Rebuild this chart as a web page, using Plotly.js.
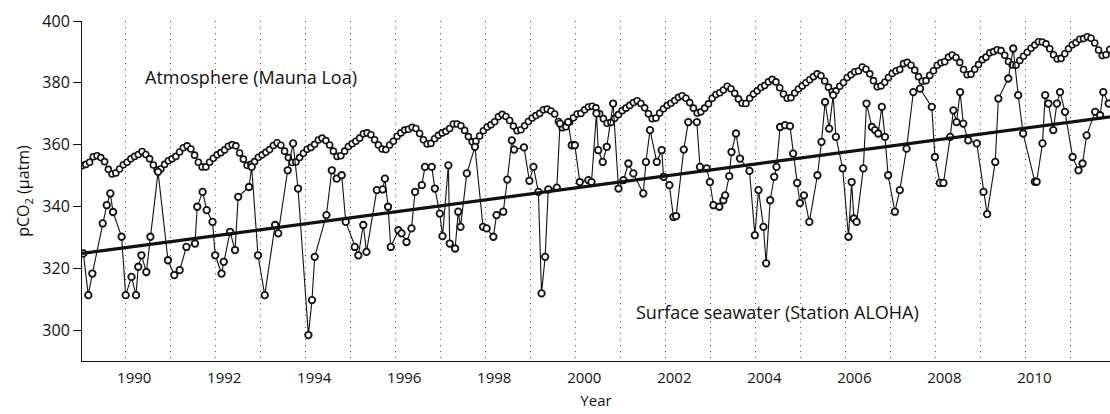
<!DOCTYPE html>
<html>
<head>
<meta charset="utf-8">
<script src="https://cdn.plot.ly/plotly-3.0.1.min.js"></script>
<style>html,body{margin:0;padding:0;background:#fff;}#chart{width:1110px;height:414px;}</style>
</head>
<body>
<div id="chart"></div>
<script>
// Atmosphere (Mauna Loa) monthly pCO2, starting January 1989 (uatm)
const atmStartYear = 1989;
const atmPco2 = [
  353.2,353.6,354.3,356.1,356.4,355.8,354.5,352.0,350.5,350.8,352.1,353.5, // 1989
  354.3,355.4,356.2,356.8,357.8,356.8,355.4,353.4,351.8,352.1,353.6,354.8, // 1990
  355.4,356.2,357.6,359.0,359.6,358.6,356.6,354.3,352.8,352.8,354.3,355.6, // 1991
  356.7,357.4,358.3,359.5,360.0,359.6,357.3,355.3,353.3,353.6,354.5,355.9, // 1992
  356.7,357.5,358.4,359.7,360.6,359.8,357.9,355.8,354.2,354.4,355.8,357.2, // 1993
  358.5,359.1,360.1,361.5,362.1,361.3,359.9,357.9,356.2,356.4,357.9,359.4, // 1994
  360.3,361.1,362.1,363.5,363.8,363.2,361.6,359.9,358.6,358.4,359.9,361.1, // 1995
  362.7,363.8,364.7,365.0,365.6,365.2,363.6,361.6,360.2,360.4,361.9,363.0, // 1996
  363.8,364.3,365.2,366.7,366.7,366.1,364.6,362.6,360.9,361.1,362.8,364.5, // 1997
  365.7,366.4,367.4,369.0,369.8,369.1,367.8,366.0,364.5,364.8,366.1,367.5, // 1998
  368.6,369.4,370.1,371.3,371.5,370.9,369.9,367.5,365.5,365.8,367.3,368.7, // 1999
  369.9,370.1,371.3,372.2,372.4,371.9,370.0,368.4,366.9,367.2,368.5,369.7, // 2000
  371.0,371.8,372.7,373.6,374.2,373.3,371.9,370.0,368.4,368.6,370.2,371.6, // 2001
  372.7,373.4,374.3,375.3,375.8,375.0,373.6,371.8,370.2,370.6,371.8,373.2, // 2002
  375.0,376.2,376.8,377.7,378.9,378.1,376.6,374.8,373.4,373.3,375.0,376.4, // 2003
  377.4,378.5,379.1,380.3,381.1,380.3,378.4,376.4,375.0,375.2,376.7,378.0, // 2004
  379.0,380.0,381.0,382.0,382.9,382.3,380.6,378.6,377.1,377.4,378.9,380.1, // 2005
  381.7,382.6,383.6,383.8,385.1,384.4,382.9,380.7,378.7,379.0,380.2,381.7, // 2006
  383.0,383.8,384.3,386.2,386.6,385.7,384.1,382.0,380.5,380.7,382.4,383.9, // 2007
  385.7,386.5,386.8,388.3,389.0,388.2,386.6,384.3,382.6,382.8,384.4,385.9, // 2008
  387.5,388.3,389.7,390.1,390.7,390.4,388.9,386.9,385.8,385.7,387.2,388.6, // 2009
  389.9,391.2,392.2,393.3,393.2,392.6,391.0,389.1,387.7,387.9,389.4,391.0, // 2010
  392.3,393.0,394.1,394.3,394.9,394.4,392.9,390.6,388.8,389.1,390.8,392.1, // 2011
  393.2
];

// Surface seawater (Station ALOHA) pCO2: sample time (decimal year) and value (uatm)
const swYears = [
  1989.07,1989.18,1989.27,1989.50,1989.59,1989.67,1989.73,1989.92,1990.01,1990.14,
  1990.24,1990.29,1990.36,1990.47,1990.56,1990.73,1990.95,1991.09,1991.21,1991.36,
  1991.55,1991.60,1991.72,1991.81,1991.94,1992.00,1992.14,1992.19,1992.33,1992.44,
  1992.51,1992.75,1992.81,1992.95,1993.10,1993.33,1993.40,1993.61,1993.73,1993.84,
  1994.07,1994.15,1994.21,1994.47,1994.59,1994.70,1994.81,1994.90,1995.10,1995.18,
  1995.29,1995.36,1995.59,1995.72,1995.77,1995.84,1995.90,1996.07,1996.14,1996.25,
  1996.36,1996.44,1996.59,1996.66,1996.81,1996.88,1996.99,1997.05,1997.18,1997.21,
  1997.33,1997.40,1997.45,1997.59,1997.77,1997.95,1998.03,1998.18,1998.25,1998.40,
  1998.49,1998.59,1998.64,1998.86,1998.98,1999.07,1999.18,1999.25,1999.33,1999.40,
  1999.59,1999.66,1999.84,1999.92,1999.99,2000.10,2000.29,2000.36,2000.47,2000.51,
  2000.61,2000.70,2000.84,2000.96,2001.07,2001.18,2001.29,2001.51,2001.57,2001.66,
  2001.81,2001.92,2001.96,2002.09,2002.18,2002.24,2002.41,2002.51,2002.70,2002.77,
  2002.92,2002.99,2003.07,2003.20,2003.29,2003.33,2003.42,2003.47,2003.57,2003.66,
  2003.87,2003.99,2004.07,2004.18,2004.24,2004.33,2004.42,2004.47,2004.55,2004.66,
  2004.77,2004.84,2004.93,2004.99,2005.08,2005.20,2005.38,2005.47,2005.55,2005.64,
  2005.73,2005.79,2005.94,2006.07,2006.14,2006.19,2006.25,2006.40,2006.47,2006.59,
  2006.66,2006.73,2006.81,2006.88,2006.95,2007.10,2007.21,2007.36,2007.51,2007.66,
  2007.92,2007.99,2008.10,2008.18,2008.33,2008.40,2008.47,2008.55,2008.62,2008.73,
  2008.92,2009.07,2009.15,2009.33,2009.40,2009.62,2009.73,2009.84,2009.95,2010.21,
  2010.25,2010.38,2010.44,2010.51,2010.62,2010.70,2010.77,2010.88,2011.05,2011.18,
  2011.27,2011.36,2011.55,2011.66,2011.73,2011.85
];
const swPco2 = [
  324.8,311.3,318.3,334.5,340.4,344.2,338.2,330.2,311.3,317.2,
  311.3,320.5,324.2,318.8,330.2,351.2,322.6,317.8,319.4,326.9,
  328.0,339.9,344.7,338.8,335.0,324.2,318.3,322.1,331.8,325.9,
  343.1,346.3,352.8,324.2,311.3,334.0,331.3,351.7,360.4,345.8,
  298.4,309.7,323.7,337.2,351.7,349.0,350.1,335.0,326.9,324.2,
  334.0,325.3,345.3,345.5,349.0,339.9,326.9,332.3,331.3,328.5,
  332.9,344.7,346.9,352.8,352.8,345.8,337.7,330.4,353.3,328.0,
  326.4,338.3,333.4,350.7,359.3,333.4,332.9,330.2,337.2,338.3,
  348.7,361.4,358.4,359.1,348.3,352.8,344.7,311.9,323.7,345.5,
  346.1,366.8,367.3,359.8,359.8,347.9,348.5,347.9,370.1,358.2,
  354.4,359.3,373.3,345.8,348.5,353.9,350.7,344.2,354.4,364.7,
  354.4,358.2,349.6,346.9,336.6,336.9,358.4,367.3,367.3,352.8,
  352.3,347.9,340.4,339.9,342.0,343.6,349.8,357.6,363.6,355.5,
  351.5,330.7,345.3,333.4,321.6,342.0,349.6,352.8,365.7,366.3,
  366.0,357.1,347.6,341.1,343.6,335.0,350.1,360.9,373.8,365.2,
  376.0,362.5,352.3,330.2,347.9,336.1,335.0,352.3,373.3,365.7,
  364.7,363.6,372.2,362.5,350.1,338.3,345.3,358.7,377.0,378.1,
  372.2,356.0,347.6,347.6,362.5,371.1,367.3,377.0,366.8,361.4,
  360.4,344.7,337.5,354.4,374.9,381.4,391.1,376.0,363.6,348.0,
  348.0,360.4,376.0,373.3,364.7,373.3,377.0,370.6,356.0,351.7,
  353.9,363.0,370.6,369.5,377.0,373.3
];

// Linear trend of surface seawater pCO2 (end points)
const trendYears = [1989.04, 2011.88];
const trendPco2 = [324.8, 369.0];

// Axis ticks
const xTickYears = [1990,1992,1994,1996,1998,2000,2002,2004,2006,2008,2010];
const yTickValues = [300,320,340,360,380,400];

const atmYears = atmPco2.map((v, i) => atmStartYear + (i + 0.5) / 12);

const ink = '#111';
const traces = [
  {
    x: atmYears, y: atmPco2, type: 'scatter', mode: 'lines+markers',
    line: {color: ink, width: 1},
    marker: {symbol: 'circle', size: 6, color: '#fff', line: {color: ink, width: 1.6}},
    hoverinfo: 'skip'
  },
  {
    x: swYears, y: swPco2, type: 'scatter', mode: 'lines+markers',
    line: {color: ink, width: 1.1},
    marker: {symbol: 'circle', size: 6.5, color: '#fff', line: {color: ink, width: 1.8}},
    hoverinfo: 'skip'
  },
  {
    x: trendYears, y: trendPco2, type: 'scatter', mode: 'lines',
    line: {color: ink, width: 3.2},
    hoverinfo: 'skip'
  }
];

const layout = {
  width: 1110, height: 414,
  margin: {l: 82, r: 0, t: 21, b: 53},
  paper_bgcolor: '#fff', plot_bgcolor: '#fff',
  showlegend: false,
  font: {family: 'Open Sans, Liberation Sans, sans-serif', color: ink, size: 15},
  xaxis: {
    range: [1989.04, 2011.88],
    tickmode: 'array',
    tickvals: xTickYears.map(y => y + 0.2),
    ticktext: xTickYears.map(String),
    ticks: '', showgrid: false, zeroline: false,
    showline: true, linecolor: ink, linewidth: 1,
    tickfont: {size: 15},
    ticklabelstandoff: 3,
    minor: {tickmode: 'linear', tick0: 1989, dtick: 1, showgrid: true,
            gridcolor: '#555', gridwidth: 1, griddash: '1px,5px', ticks: ''},
    title: {text: 'Year', font: {size: 15}, standoff: 9}
  },
  yaxis: {
    range: [290, 400],
    tickmode: 'array', tickvals: yTickValues,
    ticks: 'outside', ticklen: 8, tickwidth: 1, tickcolor: ink,
    showgrid: false, zeroline: false,
    showline: true, linecolor: ink, linewidth: 1,
    tickfont: {size: 16},
    title: {text: 'pCO<sub>2</sub> (µatm)', font: {size: 16}, standoff: 8}
  },
  annotations: [
    {text: 'Atmosphere (Mauna Loa)', x: 1992.79, y: 381.8, xref: 'x', yref: 'y',
     showarrow: false, font: {size: 18, color: ink}, xanchor: 'center', yanchor: 'middle'},
    {text: 'Surface seawater (Station ALOHA)', x: 2004.5, y: 305.8, xref: 'x', yref: 'y',
     showarrow: false, font: {size: 18, color: ink}, xanchor: 'center', yanchor: 'middle'}
  ]
};

Plotly.newPlot('chart', traces, layout, {displayModeBar: false, staticPlot: true});
</script>
</body>
</html>
